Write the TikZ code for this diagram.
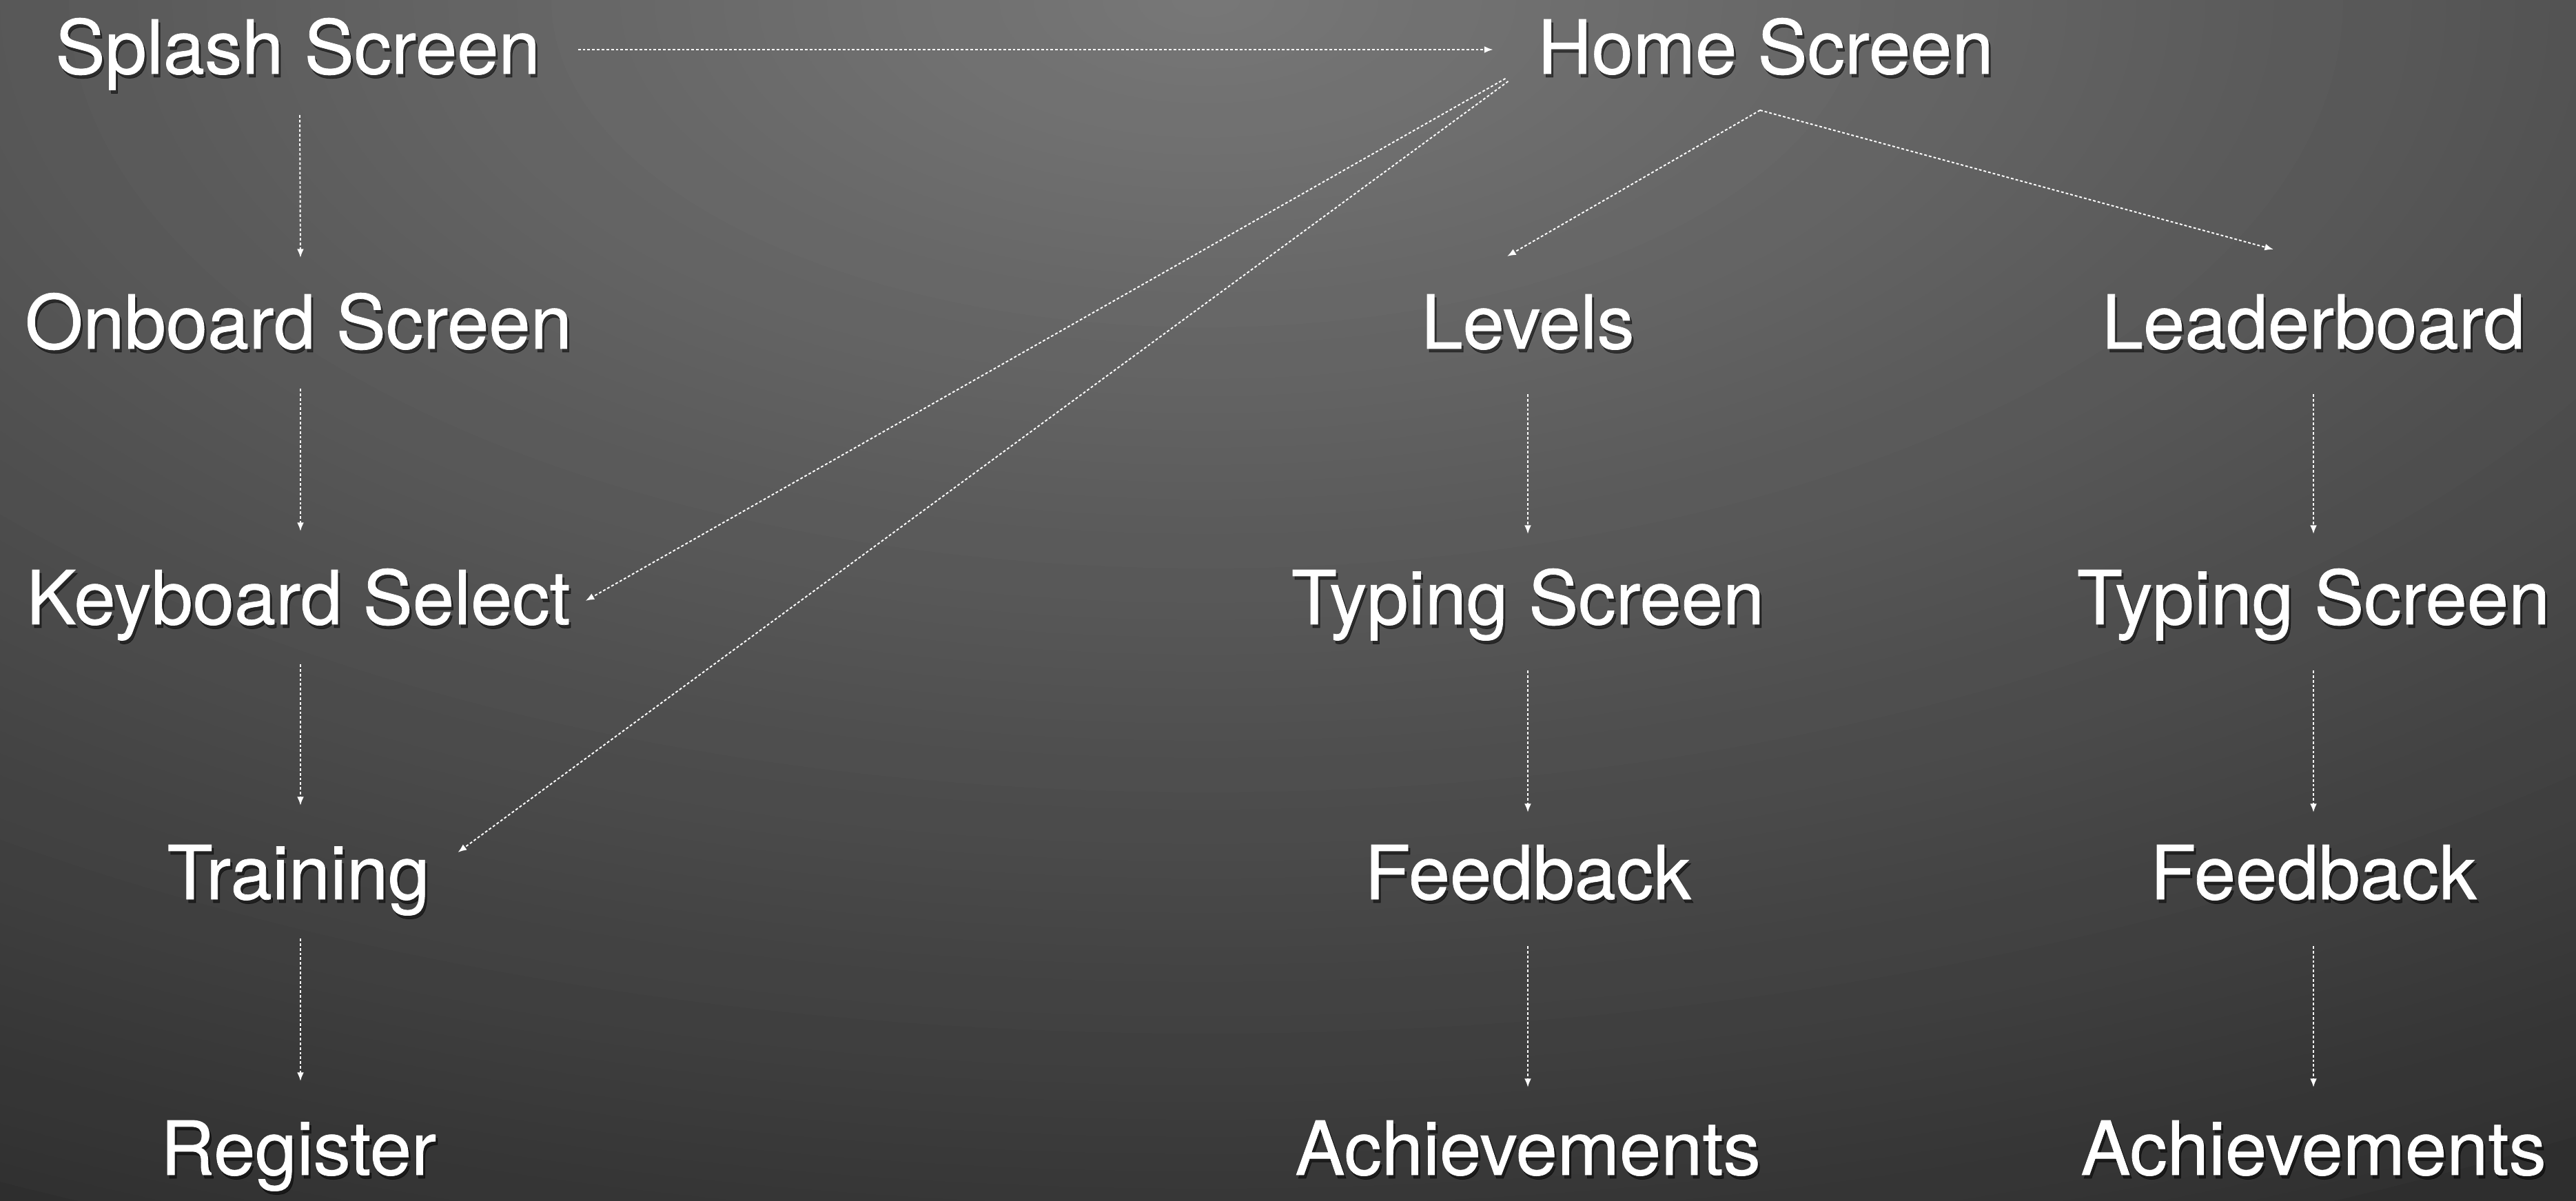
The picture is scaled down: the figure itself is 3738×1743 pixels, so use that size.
\documentclass[tikz,border=0pt]{standalone}
\usepackage{fontspec}
\setmainfont{TeX Gyre Heros}
\newfontfamily\screenfont[FakeBold=0.7]{TeX Gyre Heros}
\usetikzlibrary{arrows.meta,calc}
\tikzset{
  lbl/.style={text=white, inner sep=0pt, outer sep=0pt, anchor=base,
              font=\screenfont\fontsize{30.8pt}{36pt}\selectfont},
  lblsh/.style={lbl, text=black, text opacity=0.5},
  flow/.style={white, line width=0.55pt, dash pattern=on 1.1pt off 0.85pt,
               -{Latex[length=3.6pt,width=2.8pt]}},
}
\newcommand\screenlabel[3]{%
  \node[lblsh] (#1sh) at ($(#2)+(3,5)$) {#3};
  \node[lbl] (#1) at (#2) {#3};
}
\begin{document}
\begin{tikzpicture}[x=0.01cm, y=-0.01cm]
  \definecolor{bgbase}{gray}{0.18}
  \fill[bgbase] (0,0) rectangle (3738,1743);
  \useasboundingbox (0,0) rectangle (3738,1743);
  \begin{scope}
    \clip (0,0) rectangle (3738,1743);
    \foreach \r in {1925,1900,...,25} {
      \pgfmathsetmacro\g{(120-0.037*\r)/255}
      \pgfmathsetmacro\rx{2*\r}
      \definecolor{bgc}{gray}{\g}
      \fill[bgc] (1750,0) ellipse [x radius=\rx, y radius=\r];
    }
  \end{scope}

  \screenlabel{splash}{432,107}{Splash Screen}
  \screenlabel{home}{2562,107}{Home Screen}
  \screenlabel{onboard}{433,506}{Onboard Screen}
  \screenlabel{keyboard}{433,906}{Keyboard Select}
  \screenlabel{training}{433,1305}{Training}
  \screenlabel{register}{433,1705}{Register}
  \screenlabel{levels}{2217,506}{Levels}
  \screenlabel{typingA}{2217,906}{Typing Screen}
  \screenlabel{feedbackA}{2217,1305}{Feedback}
  \screenlabel{achieveA}{2217,1705}{Achievements}
  \screenlabel{leader}{3357,506}{Leaderboard}
  \screenlabel{typingB}{3357,906}{Typing Screen}
  \screenlabel{feedbackB}{3357,1305}{Feedback}
  \screenlabel{achieveB}{3357,1705}{Achievements}

  % top horizontal
  \draw[flow] ($(splash.base east)+(55,-35)$) -- ($(home.base west)+(-65,-35)$);
  % left column
  \draw[flow] ($(splash.base)+(3,60)$) -- ($(onboard.base)+(3,-132)$);
  \draw[flow] ($(onboard.base)+(3,58)$) -- ($(keyboard.base)+(3,-135)$);
  \draw[flow] ($(keyboard.base)+(3,58)$) -- ($(training.base)+(3,-136)$);
  \draw[flow] ($(training.base)+(3,57)$) -- ($(register.base)+(3,-136)$);
  % middle column
  \draw[flow] ($(levels.base)+(0,66)$) -- ($(typingA.base)+(0,-131)$);
  \draw[flow] ($(typingA.base)+(0,67)$) -- ($(feedbackA.base)+(0,-126)$);
  \draw[flow] ($(feedbackA.base)+(0,68)$) -- ($(achieveA.base)+(0,-127)$);
  % right column
  \draw[flow] ($(leader.base)+(0,66)$) -- ($(typingB.base)+(0,-131)$);
  \draw[flow] ($(typingB.base)+(0,67)$) -- ($(feedbackB.base)+(0,-126)$);
  \draw[flow] ($(feedbackB.base)+(0,68)$) -- ($(achieveB.base)+(0,-127)$);
  % diagonals from home
  \draw[flow] ($(home.base west)+(-47,7)$) -- ($(keyboard.base east)+(22,-34)$);
  \draw[flow] ($(home.base west)+(-43,11)$) -- ($(training.base east)+(41,-68)$);
  \draw[flow] ($(home.base)+(-8,53)$) -- ($(levels.base)+(-30,-134)$);
  \draw[flow] ($(home.base)+(-8,53)$) -- ($(leader.base)+(-58,-144)$);
\end{tikzpicture}
\end{document}
